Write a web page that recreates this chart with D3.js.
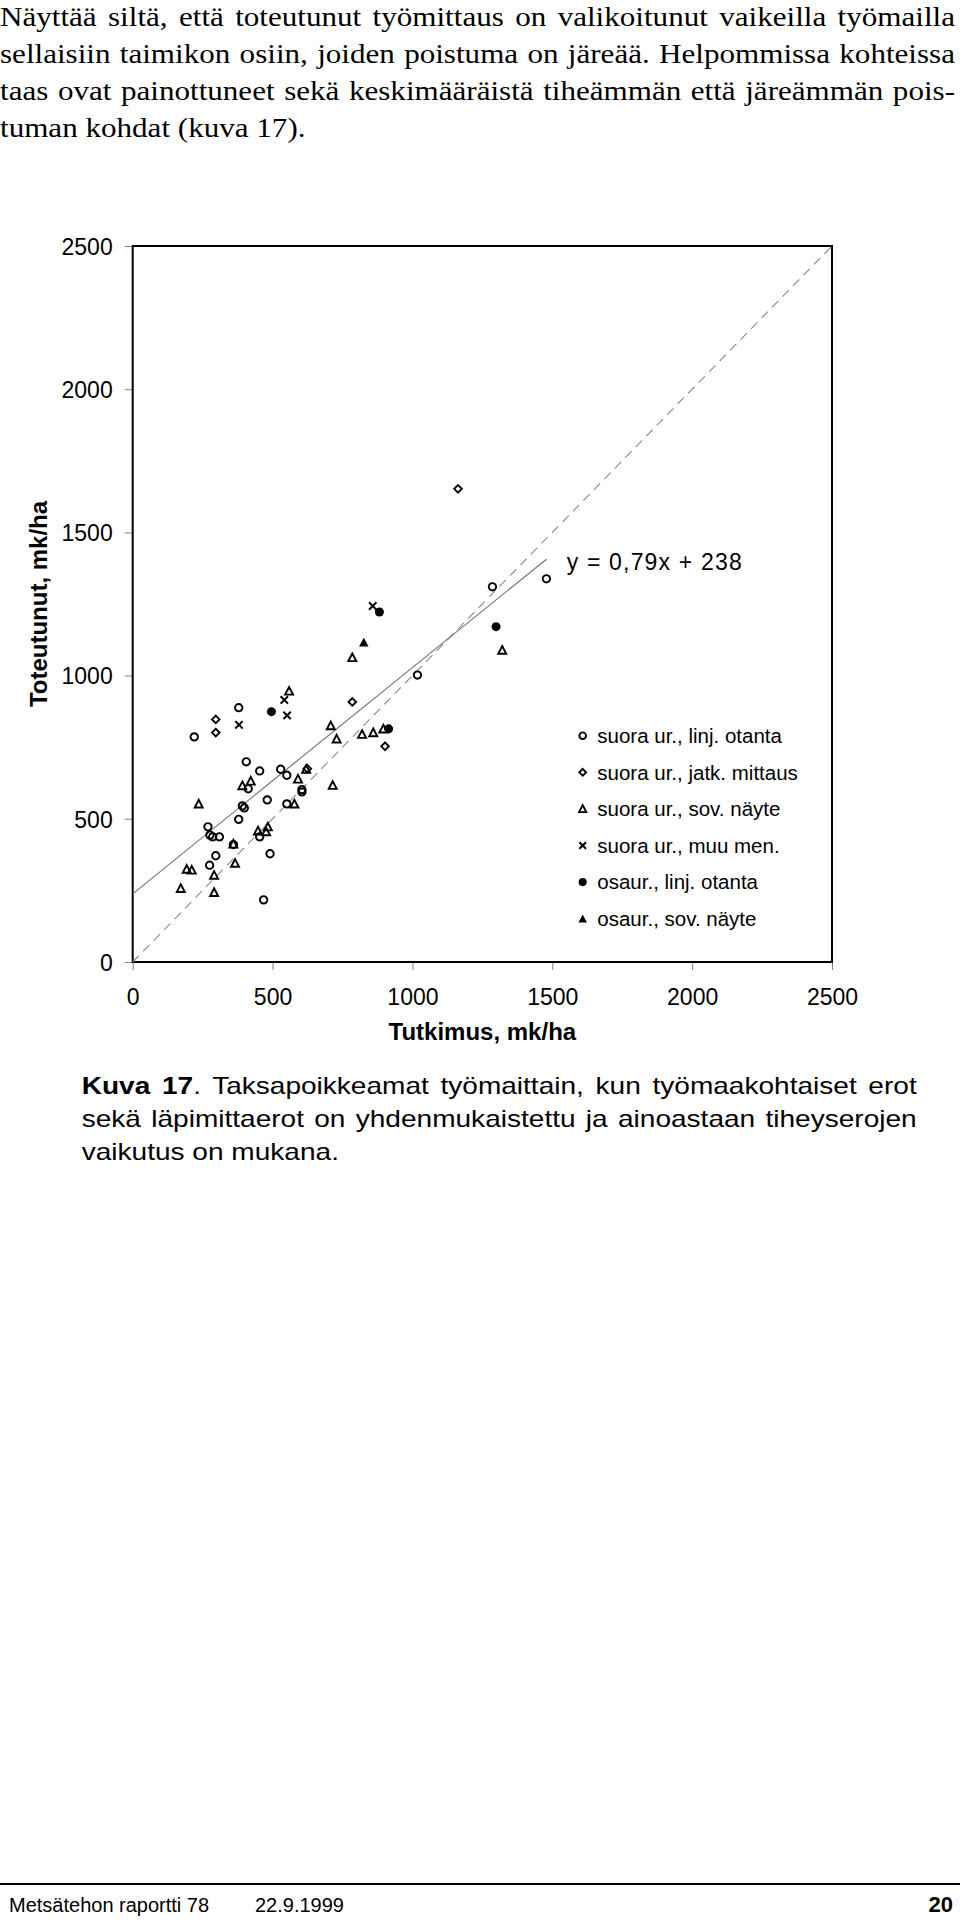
<!DOCTYPE html>
<html><head><meta charset="utf-8">
<script src="https://cdn.jsdelivr.net/npm/d3@7"></script>
<style>body{margin:0;background:#fff}</style>
</head><body>
<svg id="c" width="960" height="1920" xmlns="http://www.w3.org/2000/svg"></svg>
<script>
// ---------- data ----------
const xTicks = [0, 500, 1000, 1500, 2000, 2500];
const yTicks = [0, 500, 1000, 1500, 2000, 2500];
const xTitle = "Tutkimus, mk/ha";
const yTitle = "Toteutunut, mk/ha";
const regSlope = 0.79, regIntercept = 238;
const equationText = "y = 0,79x + 238";

const seriesNames = [
  "suora ur., linj. otanta",
  "suora ur., jatk. mittaus",
  "suora ur., sov. näyte",
  "suora ur., muu men.",
  "osaur., linj. otanta",
  "osaur., sov. näyte"
];
const seriesShapes = ["circleOpen", "diamondOpen", "triangleOpen", "cross", "circleFilled", "triangleFilled"];

const suoraLinj = [[1286,1310],[1479,1338],[1018,1002],[379,888],[220,786],[406,699],[454,667],[529,673],[551,652],[413,605],[605,602],[605,594],[392,545],[399,538],[481,566],[551,552],[379,498],[269,472],[276,443],[286,437],[310,437],[454,437],[360,410],[297,371],[491,378],[275,338],[468,217]];
const suoraJatk = [[1163,1652],[297,847],[297,801],[785,908],[902,753],[624,675]];
const suoraSov = [[785,1063],[1321,1089],[559,946],[708,825],[729,779],[820,795],[860,801],[896,814],[620,673],[591,639],[715,617],[392,616],[422,632],[236,552],[578,552],[448,458],[483,472],[477,455],[360,412],[366,345],[193,324],[211,321],[291,303],[172,257],[291,243]];
const suoraMuu = [[858,1243],[542,915],[552,861],[380,828]];
const osaurLinj = [[882,1222],[1299,1171],[496,874],[915,814]];
const osaurSov = [[826,1116]];
const seriesData = [suoraLinj, suoraJatk, suoraSov, suoraMuu, osaurLinj, osaurSov];

const paragraphLines = [
  "Näyttää siltä, että toteutunut työmittaus on valikoitunut vaikeilla työmailla",
  "sellaisiin taimikon osiin, joiden poistuma on järeää. Helpommissa kohteissa",
  "taas ovat painottuneet sekä keskimääräistä tiheämmän että järeämmän pois-",
  "tuman kohdat (kuva 17)."
];
const captionBold = "Kuva 17";
const captionLines = [
  ". Taksapoikkeamat työmaittain, kun työmaakohtaiset erot",
  "sekä läpimittaerot on yhdenmukaistettu ja ainoastaan tiheyserojen",
  "vaikutus on mukana."
];
const footerLeft = "Metsätehon raportti 78";
const footerDate = "22.9.1999";
const footerPage = "20";

// ---------- layout ----------
const svg = d3.select("#c");
const L = 132.7, R = 832, T = 246, B = 962;
const x = d3.scaleLinear().domain([0, 2500]).range([L, R]);
const y = d3.scaleLinear().domain([0, 2500]).range([B, T]);
const sans = "'Liberation Sans', Arial, sans-serif";
const serif = "'Liberation Serif', 'Times New Roman', serif";

function justify(sel, target) {
  sel.each(function() {
    const n = this.getComputedTextLength();
    const txt = this.textContent;
    const spaces = (txt.match(/ /g) || []).length;
    if (spaces > 0) d3.select(this).attr("word-spacing", Math.max(0, (target - n) / spaces));
  });
}

// paragraph (text in the page is slightly wider than the font's natural width)
const pScale = 1.11;
const para = svg.append("g").attr("transform", `scale(${pScale},1)`)
  .attr("font-family", serif).attr("font-size", 28).attr("fill", "#000");
paragraphLines.forEach((t, i) => {
  const tx = para.append("text").attr("x", 0).attr("y", 26 + i * 36.9).text(t);
  if (i < 3) justify(tx, 955 / pScale);
});

// symbols
function shapePath(shape, s) {
  const p = d3.path();
  if (shape.startsWith("circle")) {
    const r = shape === "circleFilled" ? 4.5 * s : 3.7 * s;
    p.arc(0, 0, r, 0, Math.PI * 2); p.closePath();
  } else if (shape === "diamondOpen") {
    const h = 3.8 * s;
    p.moveTo(0, -h); p.lineTo(h, 0); p.lineTo(0, h); p.lineTo(-h, 0); p.closePath();
  } else if (shape.startsWith("triangle")) {
    const w = (shape === "triangleFilled" ? 4.7 : 4.0) * s, h = (shape === "triangleFilled" ? 8.2 : 7.2) * s;
    p.moveTo(0, -h / 2 - 0.5); p.lineTo(w, h / 2); p.lineTo(-w, h / 2); p.closePath();
  } else if (shape === "cross") {
    const h = 3.7 * s;
    p.moveTo(-h, -h); p.lineTo(h, h); p.moveTo(h, -h); p.lineTo(-h, h);
  }
  return p.toString();
}
function styleShape(sel, shape) {
  const filled = shape.endsWith("Filled");
  sel.attr("fill", filled ? "#000" : "none")
     .attr("stroke", filled ? "none" : "#000")
     .attr("stroke-width", shape === "cross" ? 2 : 1.9);
}

// axes & frame
const gx = svg.append("g").attr("transform", `translate(0,${B})`)
  .call(d3.axisBottom(x).tickValues(xTicks).tickSize(8).tickPadding(10).tickFormat(d3.format("d")));
gx.select(".domain").remove();
gx.selectAll(".tick line").attr("stroke", "#808080").attr("stroke-width", 1);
gx.selectAll(".tick text").attr("font-family", sans).attr("font-size", 23).attr("fill", "#000")
  .attr("dy", null).attr("y", 43);

const gy = svg.append("g").attr("transform", `translate(${L},0)`)
  .call(d3.axisLeft(y).tickValues(yTicks).tickSize(8).tickPadding(12).tickFormat(d3.format("d")));
gy.select(".domain").remove();
gy.selectAll(".tick line").attr("stroke", "#808080").attr("stroke-width", 1);
gy.selectAll(".tick text").attr("font-family", sans).attr("font-size", 23).attr("fill", "#000")
  .attr("x", -20).attr("dy", "0.36em");

svg.append("rect").attr("x", L).attr("y", T).attr("width", R - L).attr("height", B - T)
  .attr("fill", "none").attr("stroke", "#000").attr("stroke-width", 2);

// reference line y = x
svg.append("line").attr("x1", x(0)).attr("y1", y(0)).attr("x2", x(2500)).attr("y2", y(2500))
  .attr("stroke", "#8a8a8a").attr("stroke-width", 1.1).attr("stroke-dasharray", "9,6");

// regression line
const allX = seriesData.flat().map(d => d[0]);
const xMax = d3.max(allX);
svg.append("line").attr("x1", x(0)).attr("y1", y(regIntercept))
  .attr("x2", x(xMax)).attr("y2", y(regSlope * xMax + regIntercept))
  .attr("stroke", "#707070").attr("stroke-width", 1.1);

// points
seriesData.forEach((data, i) => {
  const shape = seriesShapes[i];
  svg.append("g").selectAll("path").data(data).join("path")
    .attr("transform", d => `translate(${x(d[0])},${y(d[1])})`)
    .attr("d", shapePath(shape, 1))
    .call(styleShape, shape);
});

// equation
svg.append("text").attr("x", 566.7).attr("y", 569.5).attr("font-family", sans).attr("font-size", 23)
  .attr("textLength", 175).attr("lengthAdjust", "spacing").text(equationText);

// legend
const lg = svg.append("g");
seriesNames.forEach((n, i) => {
  const cy = 735.7 + i * 36.6;
  lg.append("path").attr("transform", `translate(582.7,${cy})`).attr("d", shapePath(seriesShapes[i], 0.9))
    .call(styleShape, seriesShapes[i]);
  lg.append("text").attr("x", 597.3).attr("y", cy + 7.2).attr("font-family", sans).attr("font-size", 20.5)
    .text(n);
});

// axis titles
svg.append("text").attr("x", (L + R) / 2).attr("y", 1040).attr("text-anchor", "middle")
  .attr("font-family", sans).attr("font-size", 24).attr("font-weight", "bold").text(xTitle);
svg.append("text").attr("transform", `translate(46.7,${(T + B) / 2}) rotate(-90)`).attr("text-anchor", "middle")
  .attr("font-family", sans).attr("font-size", 24).attr("font-weight", "bold").text(yTitle);

// caption (also slightly wide in the page)
const cScale = 1.22;
const cap = svg.append("g").attr("transform", `translate(81.7,0) scale(${cScale},1)`)
  .attr("font-family", sans).attr("font-size", 23).attr("fill", "#000");
const c1 = cap.append("text").attr("x", 0).attr("y", 1094);
c1.append("tspan").attr("font-weight", "bold").text(captionBold);
c1.append("tspan").text(captionLines[0]);
{
  const n = c1.node().getComputedTextLength();
  const spaces = (c1.text().match(/ /g) || []).length;
  c1.attr("word-spacing", Math.max(0, (835 / cScale - n) / spaces));
}
const c2 = cap.append("text").attr("x", 0).attr("y", 1127.3).text(captionLines[1]);
justify(c2, 835 / cScale);
cap.append("text").attr("x", 0).attr("y", 1160.5).text(captionLines[2]);

// footer
svg.append("line").attr("x1", 0).attr("x2", 960).attr("y1", 1884).attr("y2", 1884)
  .attr("stroke", "#000").attr("stroke-width", 2);
const ft = svg.append("g").attr("font-family", sans).attr("font-size", 20).attr("fill", "#000");
ft.append("text").attr("x", 9).attr("y", 1912).text(footerLeft);
ft.append("text").attr("x", 255).attr("y", 1912).text(footerDate);
ft.append("text").attr("x", 953).attr("y", 1912).attr("text-anchor", "end").attr("font-weight", "bold")
  .attr("font-size", 22).text(footerPage);
</script>
</body></html>
